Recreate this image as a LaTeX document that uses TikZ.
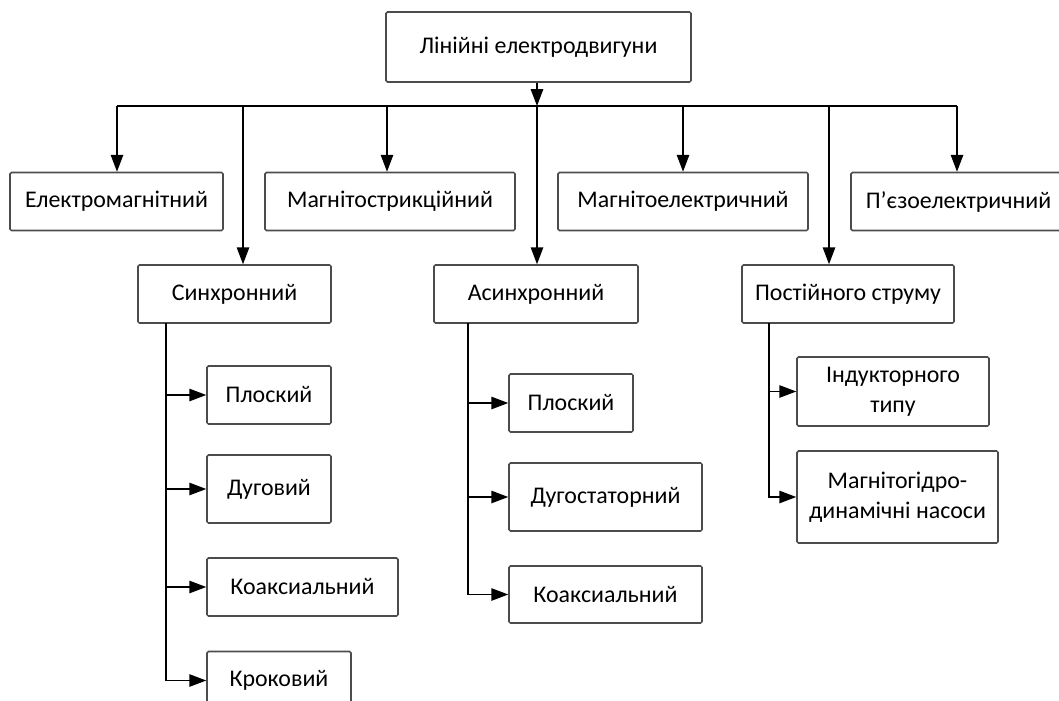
\documentclass[tikz,border=0pt]{standalone}
\usepackage{fontspec}
\setmainfont{Carlito}
\usepackage{tikz}
\usetikzlibrary{arrows.meta,positioning,calc}

\begin{document}
\begin{tikzpicture}[
  box/.style={draw=black!70, line width=1.1pt, rounded corners=1pt, align=center, inner sep=0pt, minimum height=1.45cm, font=\fontsize{17}{21}\selectfont},
  arr/.style={-{Triangle[length=4.2mm,width=3.1mm]}, line width=0.9pt},
  ln/.style={line width=0.9pt}
]
  \useasboundingbox (0,0) rectangle (26.475,-17.525);

  % root
  \node[box, minimum width=7.625cm, minimum height=1.75cm] (root) at (13.4625,-1.175) {Лінійні електродвигуни};

  % first level
  \node[box, minimum width=5.325cm] (em) at (2.9125,-5.0375) {Електромагнітний};
  \node[box, minimum width=6.25cm] (ms) at (9.75,-5.0375) {Магнітострикційний};
  \node[box, minimum width=6.25cm] (me) at (17.075,-5.0375) {Магнітоелектричний};
  \node[box, minimum width=5.375cm] (pe) at (23.9625,-5.0375) {П’єзоелектричний};

  \node[box, minimum width=4.825cm] (sync) at (5.8625,-7.35) {Синхронний};
  \node[box, minimum width=5.1cm] (async) at (13.4,-7.35) {Асинхронний};
  \node[box, minimum width=5.3cm] (dc) at (21.2,-7.35) {Постійного струму};

  % synchronous
  \node[box, minimum width=3.1cm] (s1) at (6.725,-9.875) {Плоский};
  \node[box, minimum width=3.1cm, minimum height=1.7cm] (s2) at (6.725,-12.225) {Дуговий};
  \node[box, minimum width=4.775cm] (s3) at (7.5625,-14.675) {Коаксиальний};
  \node[box, minimum width=3.6cm] (s4) at (6.975,-17.0125) {Кроковий};

  % asynchronous
  \node[box, minimum width=3.1cm] (a1) at (14.275,-10.075) {Плоский};
  \node[box, minimum width=4.825cm, minimum height=1.7cm] (a2) at (15.1375,-12.425) {Дугостаторний};
  \node[box, minimum width=4.825cm, minimum height=1.425cm] (a3) at (15.1375,-14.8625) {Коаксиальний};

  % direct current
  \node[box, minimum width=4.8cm, minimum height=1.725cm] (d1) at (22.325,-9.7875) {Індукторного\\типу};
  \node[box, minimum width=5.025cm, minimum height=2.3cm] (d2) at (22.4375,-12.425) {Магнітогідро-\\динамічні насоси};

  % bus
  \coordinate (j1) at (2.925,-2.65);
  \coordinate (j2) at (6.075,-2.65);
  \coordinate (j3) at (9.675,-2.65);
  \coordinate (j4) at (13.425,-2.65);
  \coordinate (j5) at (17.075,-2.65);
  \coordinate (j6) at (20.725,-2.65);
  \coordinate (j7) at (23.925,-2.65);

  \draw[arr] (root.south -| j4) -- (j4);
  \draw[ln] (j1) -- (j7);
  \draw[arr] (j1) -- (j1 |- em.north);
  \draw[arr] (j2) -- (j2 |- sync.north);
  \draw[arr] (j3) -- (j3 |- ms.north);
  \draw[arr] (j4) -- (j4 |- async.north);
  \draw[arr] (j5) -- (j5 |- me.north);
  \draw[arr] (j6) -- (j6 |- dc.north);
  \draw[arr] (j7) -- (j7 |- pe.north);

  % spines
  \coordinate (sp1) at (4.15,-8.075);
  \coordinate (sp2) at (11.7,-8.075);
  \coordinate (sp3) at (19.225,-8.075);

  \draw[arr] (sp1) |- (s4);
  \draw[arr] (sp1 |- s1) -- (s1);
  \draw[arr] (sp1 |- s2) -- (s2);
  \draw[arr] (sp1 |- s3) -- (s3);

  \draw[arr] (sp2) |- (a3);
  \draw[arr] (sp2 |- a1) -- (a1);
  \draw[arr] (sp2 |- a2) -- (a2);

  \draw[arr] (sp3) |- (d2);
  \draw[arr] (sp3 |- d1) -- (d1);
\end{tikzpicture}
\end{document}
